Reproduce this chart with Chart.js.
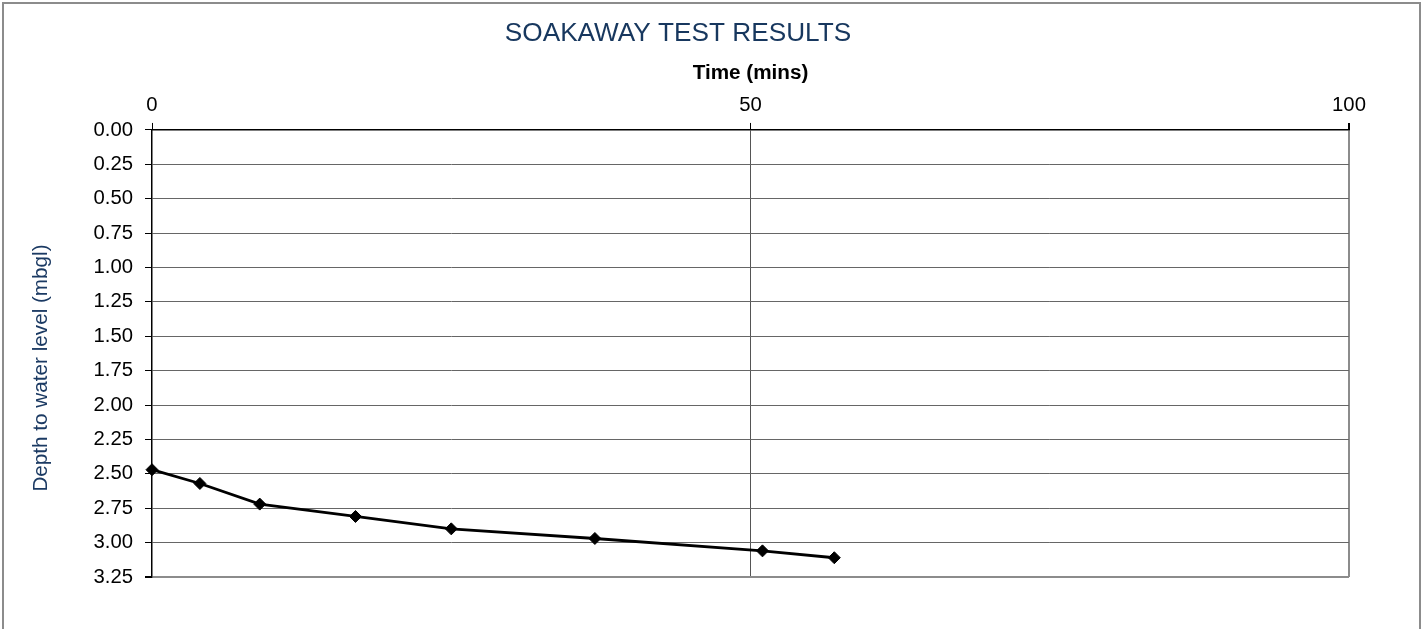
<!DOCTYPE html>
<html>
<head>
<meta charset="utf-8">
<script src="https://cdn.jsdelivr.net/npm/chart.js@4/dist/chart.umd.min.js"></script>
<style>
  html, body { margin: 0; padding: 0; background: #fff; }
  #frame { position: absolute; left: 2px; top: 2px; width: 1419px; height: 700px; border: 2px solid #8c8c8c; border-bottom: none; box-sizing: border-box; }
  #soak { position: absolute; left: 0; top: 0; }
</style>
</head>
<body>
<div id="frame"></div>
<canvas id="soak" width="1426" height="629"></canvas>
<script>
// soakaway readings
var timeMins = [0, 4, 9, 17, 25, 37, 51, 57];
var depthM = [2.47, 2.57, 2.72, 2.81, 2.90, 2.97, 3.06, 3.11];
var timeTicks = [0, 50, 100];
var depthTicks = [0, 0.25, 0.5, 0.75, 1, 1.25, 1.5, 1.75, 2, 2.25, 2.5, 2.75, 3, 3.25];

var FONT = '"Liberation Sans", Arial, sans-serif';

var points = timeMins.map(function(t, i) { return {x: t, y: depthM[i]}; });

// rotated y axis title, sits a bit below the axis centre
var yTitle = {
    id: 'yTitle',
    afterDraw: function(chart) {
        var ctx = chart.ctx;
        ctx.save();
        ctx.translate(41, 368);
        ctx.rotate(-Math.PI / 2);
        ctx.font = '20.7px ' + FONT;
        ctx.fillStyle = '#1b3a63';
        ctx.textAlign = 'center';
        ctx.textBaseline = 'middle';
        ctx.fillText('Depth to water level (mbgl)', 0, 0);
        ctx.restore();
    }
};

new Chart(document.getElementById('soak'), {
    type: 'scatter',
    data: {
        datasets: [{
            data: points,
            showLine: true,
            tension: 0,
            borderColor: '#000',
            borderWidth: 2.8,
            backgroundColor: '#000',
            pointStyle: 'rectRot',
            pointRadius: 6,
            pointBorderWidth: 1,
            clip: false
        }]
    },
    options: {
        responsive: false,
        animation: false,
        layout: { padding: { top: 0, left: 7, right: 77, bottom: 52 } },
        plugins: {
            legend: { display: false },
            tooltip: { enabled: false },
            title: {
                display: true,
                text: 'SOAKAWAY TEST RESULTS',
                color: '#17375e',
                font: { family: FONT, size: 26.2, weight: 'normal' },
                padding: { top: 18, bottom: 11 }
            }
        },
        scales: {
            x: {
                type: 'linear',
                position: 'top',
                min: 0,
                max: 100,
                afterBuildTicks: function(scale) {
                    scale.ticks = timeTicks.map(function(v) { return {value: v}; });
                },
                afterFit: function(scale) {
                    scale.paddingLeft = 0;
                    scale.paddingRight = 0;
                    scale.height = 69.5;
                },
                ticks: { color: '#000', padding: 5, font: { family: FONT, size: 20.3 } },
                grid: {
                    tickLength: 7,
                    tickColor: '#000',
                    color: function(c) {
                        if (c.tick.value === 50) return '#555';
                        if (c.tick.value === 100) return '#8c8c8c';
                        return 'rgba(0,0,0,0)';
                    },
                    lineWidth: function(c) { return c.tick.value === 100 ? 2 : 1; }
                },
                border: { color: '#000', width: 1.5 },
                title: {
                    display: true,
                    text: 'Time (mins)',
                    color: '#000',
                    font: { family: FONT, size: 20.7, weight: 'bold' },
                    padding: { top: 0, bottom: 10 }
                }
            },
            y: {
                type: 'linear',
                reverse: true,
                min: 0,
                max: 3.25,
                afterBuildTicks: function(scale) {
                    scale.ticks = depthTicks.map(function(v) { return {value: v}; });
                },
                afterFit: function(scale) { scale.width = 145; },
                ticks: {
                    color: '#000',
                    padding: 12,
                    font: { family: FONT, size: 20.3 },
                    callback: function(v) { return Number(v).toFixed(2); }
                },
                grid: {
                    tickLength: 7,
                    tickColor: '#000',
                    color: function(c) {
                        if (c.tick.value === 3.25) return '#8c8c8c';
                        if (c.tick.value === 0) return '#000';
                        return '#666';
                    },
                    lineWidth: function(c) { return c.tick.value === 3.25 ? 2 : 1; }
                },
                border: { color: '#000', width: 1.5 }
            }
        }
    },
    plugins: [yTitle]
});
</script>
</body>
</html>
